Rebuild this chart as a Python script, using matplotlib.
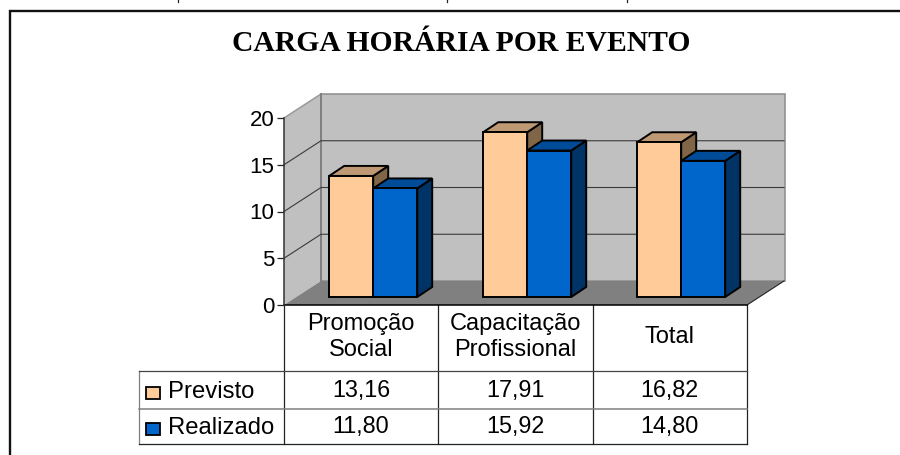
import matplotlib
matplotlib.use('Agg')
import numpy as np
import matplotlib.pyplot as plt
from matplotlib.patches import Polygon, Rectangle

categorias = ['Promoção\nSocial', 'Capacitação\nProfissional', 'Total']
previsto = [13.16, 17.91, 16.82]
realizado = [11.80, 15.92, 14.80]
previsto_txt = ['13,16', '17,91', '16,82']
realizado_txt = ['11,80', '15,92', '14,80']
series = ['Previsto', 'Realizado']
y_ticks = [0, 5, 10, 15, 20]

COR_PREV = ('#FFCC99', '#BF9973', '#806647')
COR_REAL = ('#0066CC', '#004C99', '#003366')
W, H = 900, 455
FONTE = 'Liberation Sans'


def caixa(l, t, r, b):
    # pixel (origem em cima) -> posicao da figura
    return [l / W, 1 - b / H, (r - l) / W, (b - t) / H]


fig = plt.figure(figsize=(9, 4.55), dpi=100, facecolor='white')

# fundo em pixel: moldura, paredes, tabela
bg = fig.add_axes([0, 0, 1, 1])
bg.set_xlim(0, W)
bg.set_ylim(H, 0)
bg.axis('off')

bg.plot([9.5, 9.5, W], [H, 10.5, 10.5], color='#111111', lw=1.7, solid_joinstyle='miter')
# restos da linha de texto cortada em cima
for x in [178, 447, 627]:
    bg.plot([x, x], [0, 2], color='#222222', lw=0.9)

x0, x1, y0, y20 = 284, 747, 305, 118
dx, dy = 37, 24
esc = (y0 - y20) / 20

bg.add_patch(Polygon([(x0, y20), (x0 + dx, y20 - dy), (x0 + dx, y0 - dy), (x0, y0)],
                     fc='#C0C0C0', ec='none'))
bg.add_patch(Rectangle((x0 + dx, y20 - dy), x1 - x0 + 1, y0 - y20, fc='#C0C0C0', ec='#8c8c8c', lw=1.1))
bg.add_patch(Polygon([(x0, y0), (x0 + dx, y0 - dy), (x1 + dx, y0 - dy), (x1, y0)],
                     fc='#808080', ec='none'))
bg.plot([x0, x0 + dx], [y20, y20 - dy], color='#999999', lw=1.1)
bg.plot([x0 + dx, x0 + dx], [y20 - dy, y0 - dy], color='#808080', lw=1.4)
bg.plot([x1, x1 + dx], [y0, y0 - dy], color='#222222', lw=0.8)

for v in y_ticks[1:-1]:
    yp = y0 - v * esc
    bg.plot([x0, x0 + dx, x1 + dx], [yp, yp - dy, yp - dy], color='#3a3a3a', lw=0.8)

# tabela
colunas = [x0, 438, 592.5, x1]
linhas = [y0, 371, 409, 443.5]
for x in colunas:
    bg.plot([x, x], [y0, linhas[-1]], color='#222222', lw=0.9)
bg.plot([139, 139], [linhas[1], linhas[-1]], color='#808080', lw=0.9)
bg.plot([x0, x1], [y0, y0], color='black', lw=1.1)
bg.plot([139, x1], [linhas[1], linhas[1]], color='#444444', lw=0.9)
bg.plot([139, x1], [linhas[2], linhas[2]], color='#808080', lw=1.1)
bg.plot([139, x1], [linhas[3], linhas[3]], color='#222222', lw=0.9)

centros = [(colunas[i] + colunas[i + 1]) / 2 for i in range(3)]
for i, c in enumerate(centros):
    bg.text(c, 337, categorias[i], ha='center', va='center', family=FONTE, fontsize=17,
            linespacing=1.24, color='black')
    bg.text(c, 390, previsto_txt[i], ha='center', va='center', family=FONTE, fontsize=16.8, color='black')
    bg.text(c, 426, realizado_txt[i], ha='center', va='center', family=FONTE, fontsize=16.8, color='black')

for nome, cor, yc in zip(series, (COR_PREV, COR_REAL), (393, 429)):
    bg.add_patch(Rectangle((146, yc - 6), 13.5, 12, fc=cor[0], ec='black', lw=1.3))
    bg.text(168, yc - 0.5, nome, ha='left', va='center', family=FONTE, fontsize=17.2, color='black')

bg.text(461.5, 43.5, 'CARGA HORÁRIA POR EVENTO', ha='center', va='center',
        family='Liberation Serif', weight='bold', fontsize=21.3, color='black')

# eixo de valores
ax = fig.add_axes(caixa(x0, y20, x1, y0))
ax.patch.set_alpha(0)
ax.set_xlim(0, 3)
ax.set_ylim(0, 20)
ax.set_xticks([])
ax.set_yticks(y_ticks)
ax.set_yticklabels([str(v) for v in y_ticks], family=FONTE, fontsize=16)
ax.tick_params(axis='y', length=5, width=0.9, color='#222222', pad=2)
for s in ['top', 'right', 'bottom']:
    ax.spines[s].set_visible(False)
ax.spines['left'].set_color('#333333')
ax.spines['left'].set_linewidth(1.1)

# barras no plano da frente, um pouco para dentro do piso
axb = fig.add_axes(caixa(296.2, 297 - 184, 758.2, 297))
axb.patch.set_alpha(0)
axb.set_xlim(0, 3)
axb.set_ylim(0, 20)
axb.axis('off')

larg = 44 / 154
prof_x = 15 / 154
prof_y = 10 / 9.2
pos = np.arange(3) + 0.5

for vals, cor, desl in ((previsto, COR_PREV, -larg / 2), (realizado, COR_REAL, larg / 2)):
    for p, v in zip(pos + desl, vals):
        e, d = p - larg / 2, p + larg / 2
        axb.add_patch(Polygon([(d, 0), (d + prof_x, prof_y), (d + prof_x, v + prof_y), (d, v)],
                              fc=cor[2], ec='black', lw=1.4, clip_on=False, joinstyle='miter'))
        axb.add_patch(Polygon([(e, v), (e + prof_x, v + prof_y), (d + prof_x, v + prof_y), (d, v)],
                              fc=cor[1], ec='black', lw=1.4, clip_on=False, joinstyle='miter'))
        axb.bar(p, v, larg, color=cor[0], edgecolor='black', linewidth=1.4, clip_on=False, zorder=3)

fig.savefig('out.png', dpi=100, facecolor='white')
